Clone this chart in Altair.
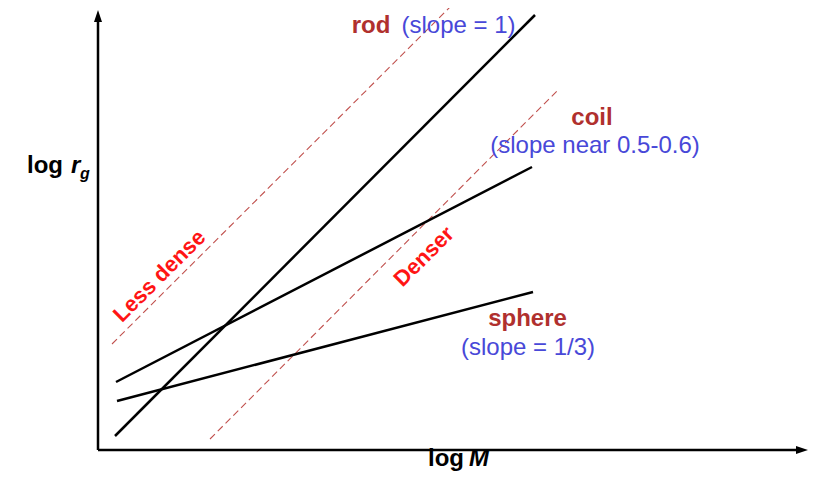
import altair as alt
import pandas as pd

# ---- data (log M on x, log r_g on y; arbitrary units) ----
series = ["rod", "coil", "sphere"]
x_start = [0.34, 0.36, 0.38]
x_end = [8.74, 8.68, 8.70]
y_start = [0.28, 1.36, 0.98]
y_end = [8.70, 5.66, 3.16]

dash_names = ["Less dense", "Denser"]
dash_x_start = [0.28, 2.24]
dash_x_end = [7.18, 9.20]
dash_y_start = [2.12, 0.22]
dash_y_end = [9.00, 7.20]

shape_labels = ["rod", "coil", "sphere"]
slope_labels = ["(slope = 1)", "(slope near 0.5-0.6)", "(slope = 1/3)"]

X_MAX, Y_MAX = 14.2, 8.8

# ---- tables ----
lines = pd.DataFrame(
    [dict(series=s, x=x, y=y, o=i) for s, xa, xb, ya, yb in zip(series, x_start, x_end, y_start, y_end)
     for i, (x, y) in enumerate([(xa, ya), (xb, yb)])]
)
dashes = pd.DataFrame(
    [dict(series=s, x=x, y=y, o=i) for s, xa, xb, ya, yb in zip(dash_names, dash_x_start, dash_x_end, dash_y_start, dash_y_end)
     for i, (x, y) in enumerate([(xa, ya), (xb, yb)])]
)

name_pos = pd.DataFrame({"t": shape_labels, "x": [5.46, 9.88, 8.59], "y": [8.34, 6.50, 2.48]})
slope_pos = pd.DataFrame({"t": slope_labels, "x": [7.21, 9.94, 8.60], "y": [8.34, 5.94, 1.90]})
density_pos = pd.DataFrame({"t": dash_names, "x": [1.23, 6.52], "y": [3.48, 3.87]})

axes_df = pd.DataFrame({"x": [0, 0], "x2": [X_MAX - 0.2, 0], "y": [0, 0], "y2": [0, Y_MAX - 0.2]})
arrows_up = pd.DataFrame({"x": [0], "y": [Y_MAX]})
arrows_right = pd.DataFrame({"x": [X_MAX], "y": [0]})

plain_axis_text = pd.DataFrame({"t": ["log", "log"], "x": [-1.42, 6.60], "y": [5.54, -0.32]})
italic_axis_text = pd.DataFrame({"t": ["r", "M"], "x": [-0.54, 7.42], "y": [5.54, -0.32]})
sub_text = pd.DataFrame({"t": ["g"], "x": [-0.36], "y": [5.42]})

xs = alt.Scale(domain=[0, X_MAX])
ys = alt.Scale(domain=[0, Y_MAX])
X = lambda f="x": alt.X(f"{f}:Q", scale=xs, axis=None)
Y = lambda f="y": alt.Y(f"{f}:Q", scale=ys, axis=None)

FONT = "Liberation Sans"

solid = alt.Chart(lines).mark_line(color="black", strokeWidth=2.5).encode(
    x=X(), y=Y(), detail="series:N", order="o:Q")
dashed = alt.Chart(dashes).mark_line(color="#c0504d", strokeWidth=1.1, strokeDash=[7, 4]).encode(
    x=X(), y=Y(), detail="series:N", order="o:Q")

axes = alt.Chart(axes_df).mark_rule(color="black", strokeWidth=2.5).encode(
    x=X(), x2="x2:Q", y=Y(), y2="y2:Q")
arrow_up = alt.Chart(arrows_up).mark_point(
    shape="M0,0L-0.8,2.4L0.8,2.4Z", filled=True, color="black", opacity=1, size=100, strokeWidth=0
).encode(x=X(), y=Y())
arrow_right = alt.Chart(arrows_right).mark_point(
    shape="M0,0L-2.4,-0.8L-2.4,0.8Z", filled=True, color="black", opacity=1, size=100, strokeWidth=0
).encode(x=X(), y=Y())

names = alt.Chart(name_pos).mark_text(
    font=FONT, fontSize=24, fontWeight="bold", color="#b0302e", align="center", baseline="alphabetic"
).encode(x=X(), y=Y(), text="t:N")
slopes = alt.Chart(slope_pos).mark_text(
    font=FONT, fontSize=24, color="#4848d8", align="center", baseline="alphabetic"
).encode(x=X(), y=Y(), text="t:N")
density = alt.Chart(density_pos).mark_text(
    font=FONT, fontSize=22, fontWeight="bold", color="#ff1414", align="center", baseline="middle", angle=315
).encode(x=X(), y=Y(), text="t:N")

ax_plain = alt.Chart(plain_axis_text).mark_text(
    font=FONT, fontSize=24, fontWeight="bold", color="black", align="left", baseline="alphabetic"
).encode(x=X(), y=Y(), text="t:N")
ax_italic = alt.Chart(italic_axis_text).mark_text(
    font=FONT, fontSize=24, fontWeight="bold", fontStyle="italic", color="black", align="left", baseline="alphabetic"
).encode(x=X(), y=Y(), text="t:N")
ax_sub = alt.Chart(sub_text).mark_text(
    font=FONT, fontSize=16, fontWeight="bold", fontStyle="italic", color="black", align="left", baseline="alphabetic"
).encode(x=X(), y=Y(), text="t:N")

chart = alt.layer(
    dashed, solid, axes, arrow_up, arrow_right, names, slopes, density, ax_plain, ax_italic, ax_sub
).properties(
    width=710, height=440,
    autosize=alt.AutoSizeParams(type="none"),
    padding={"left": 90, "top": 2, "right": 4, "bottom": 22},
    background="white",
).configure_view(stroke=None)

chart.save("out.html", embed_options={"renderer": "svg", "actions": False})
